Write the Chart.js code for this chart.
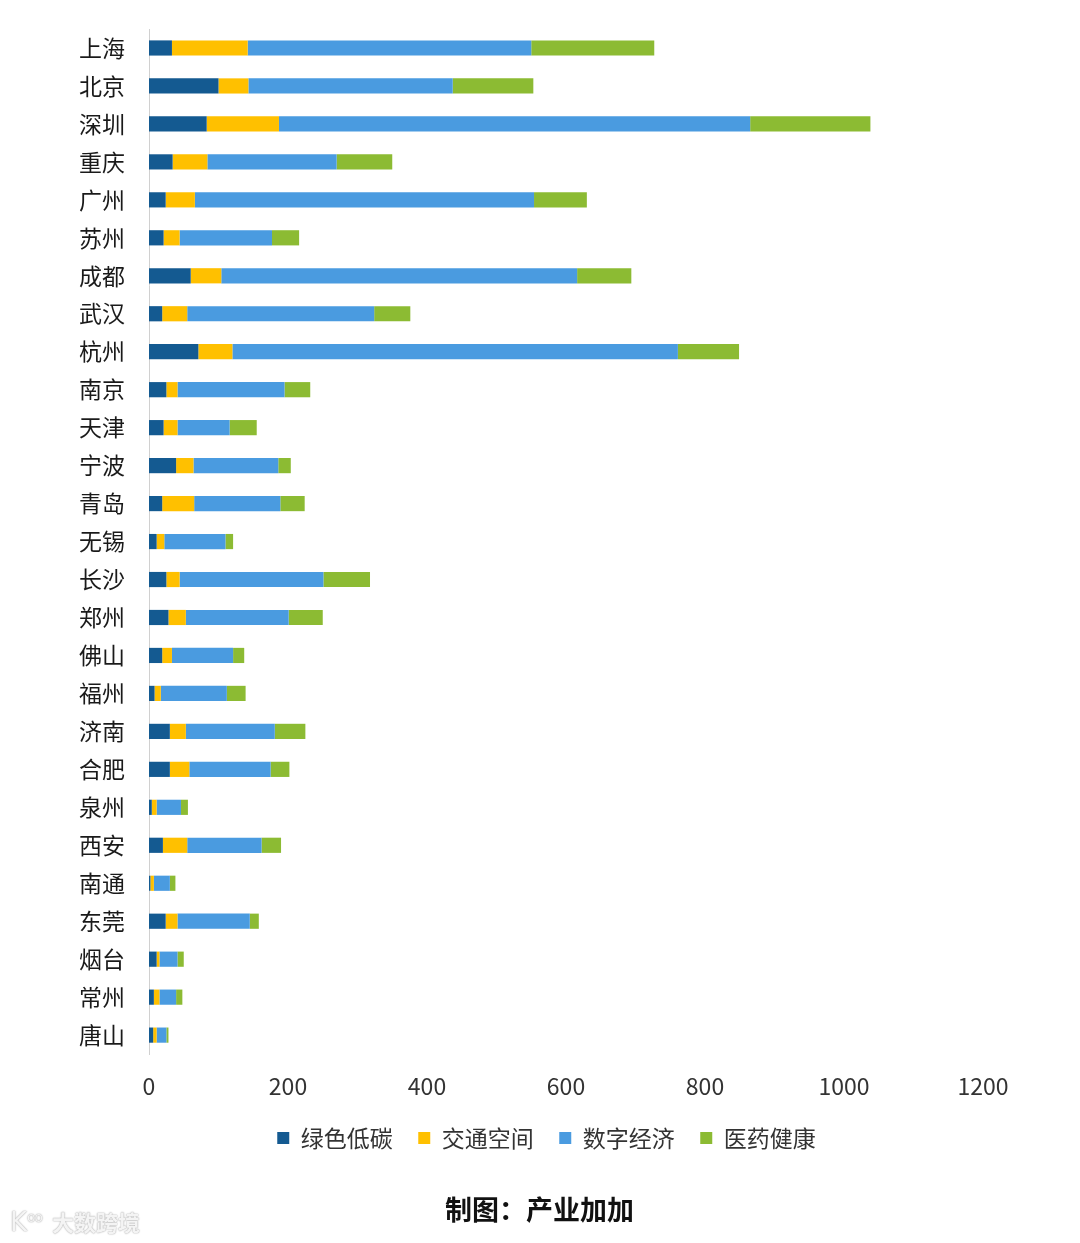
<!DOCTYPE html>
<html>
<head>
<meta charset="utf-8">
<script src="https://cdn.jsdelivr.net/npm/chart.js@4"></script>
<style>
  html, body { margin:0; padding:0; background:#fff; }
  #wrap { position:relative; width:1080px; height:1243px; }
  #wm { position:absolute; left:10px; top:1205px; font-family:"Noto Sans CJK SC", sans-serif; font-size:22px; font-weight:bold;
        color:#f4f4f4; text-shadow: 0 0 1px #aaa, 0 0 2px #bbb; white-space:nowrap; }
  #wm .k { font-size:26px; font-family:"DejaVu Sans", sans-serif; font-weight:normal; }
  #wm .o { font-size:14px; vertical-align:9px; letter-spacing:-1px; margin-right:10px; font-weight:normal; }
</style>
</head>
<body>
<div id="wrap">
  <canvas id="c" width="1080" height="1243"></canvas>
  <div id="wm"><span class="k">K</span><span class="o">oo</span>大数跨境</div>
</div>
<script>
const cities = ["上海","北京","深圳","重庆","广州","苏州","成都","武汉","杭州","南京","天津","宁波","青岛","无锡","长沙","郑州","佛山","福州","济南","合肥","泉州","西安","南通","东莞","烟台","常州","唐山"];
const seriesNames = ["绿色低碳","交通空间","数字经济","医药健康"];
const greenLowCarbon = [33,100,83,34,24,21,60,19,71,25,21,39,19,11,25,28,19,8,30,30,4,20,2,24,11,7,6];
const transportSpace = [109,43,104,50,42,23,44,36,49,16,20,25,46,11,19,25,14,9,23,28,7,35,5,17,4,8,5];
const digitalEconomy = [408,294,678,186,488,133,512,269,641,154,75,122,124,88,207,148,88,95,128,117,35,107,23,104,26,24,14];
const medicalHealth  = [177,116,173,80,76,39,78,52,88,37,39,18,35,11,67,49,16,27,44,27,10,28,8,13,9,9,3];
const xTicks = [0,200,400,600,800,1000,1200];
const colors = ["#145A91","#FFC000","#4A9BE0","#8CBB33"];

const FONT = '"Noto Sans CJK SC", "Noto Sans", sans-serif';
const values = [greenLowCarbon, transportSpace, digitalEconomy, medicalHealth];

const shiftPlugin = {
  id: 'shiftBoxes',
  afterLayout(chart) {
    const lg = chart.legend;
    if (lg) { lg.left += 55; lg.right += 55; }
    const t = chart.titleBlock;
    if (t) { t.left += 48; t.right += 48; }
  }
};

new Chart(document.getElementById('c'), {
  type: 'bar',
  data: {
    labels: cities,
    datasets: seriesNames.map((n, i) => ({
      label: n,
      data: values[i],
      backgroundColor: colors[i],
      borderWidth: 0,
      barPercentage: 0.4,
      categoryPercentage: 1
    }))
  },
  plugins: [shiftPlugin],
  options: {
    indexAxis: 'y',
    responsive: false,
    animation: false,
    devicePixelRatio: 1,
    layout: { padding: { top: 29, left: 0, right: 97, bottom: 0 } },
    scales: {
      x: {
        stacked: true,
        min: 0, max: 1200,
        afterBuildTicks: s => { s.ticks = xTicks.map(v => ({ value: v })); },
        afterFit: s => { s.height = 47; },
        grid: { display: false },
        border: { display: false },
        ticks: { color: '#333', font: { family: FONT, size: 23 }, padding: 10, maxRotation: 0,
                 callback: v => String(v) }
      },
      y: {
        stacked: true,
        afterFit: s => { s.width = 149; },
        grid: { display: false, drawTicks: true, tickLength: 24 },
        border: { display: true, color: '#d0d0d0', width: 1 },
        ticks: { color: '#1a1a1a', font: { family: FONT, size: 23 }, padding: 0, autoSkip: false }
      }
    },
    plugins: {
      legend: {
        position: 'bottom',
        labels: { boxWidth: 12, boxHeight: 12, padding: 25.5, color: '#333', font: { family: FONT, size: 23 } }
      },
      title: {
        display: true,
        position: 'bottom',
        text: '制图：产业加加',
        color: '#111',
        font: { family: FONT, size: 27, weight: 'bold' },
        padding: { top: 34, bottom: 17 }
      },
      tooltip: { enabled: false }
    }
  }
});
</script>
</body>
</html>
